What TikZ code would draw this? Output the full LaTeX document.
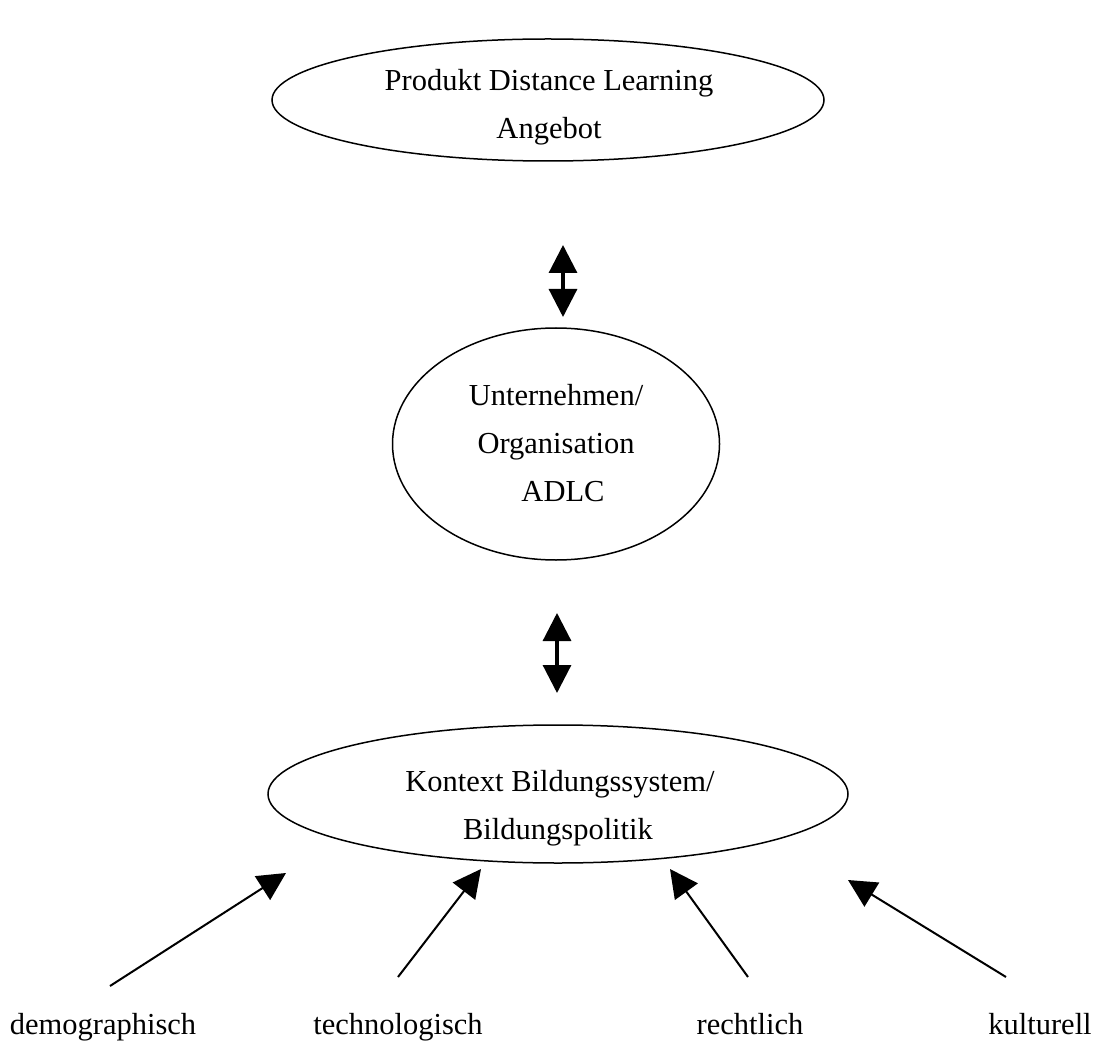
\documentclass[tikz,border=0pt]{standalone}
\usepackage{fontspec}
\setmainfont{Liberation Serif}
\usetikzlibrary{arrows.meta,shapes.geometric}
\begin{document}
\begin{tikzpicture}[x=1pt,y=-1pt,
  ell/.style={draw,ellipse,line width=1.5pt,inner sep=0pt},
  txt/.style={inner sep=0pt,anchor=base,font=\fontsize{30.5}{36}\selectfont},
  dbl/.style={line width=3.2pt,{Triangle[length=28pt,width=28pt]}-{Triangle[length=28pt,width=28pt]}},
  inarr/.style={line width=2pt,-{Triangle[length=28pt,width=28pt]}}]
\useasboundingbox (0,0) rectangle (1113,1048);
% ellipses
\node[ell,minimum width=552pt,minimum height=122pt] (top) at (548,100) {};
\node[ell,minimum width=327pt,minimum height=232pt] (mid) at (556,444) {};
\node[ell,minimum width=580pt,minimum height=138pt] (bot) at (558,794) {};
% texts inside ellipses
\node[txt] (top1) at (549,91) {Produkt Distance Learning};
\node[txt] (top2) at (549,139) {Angebot};
\node[txt] (mid1) at (556,405) {Unternehmen/};
\node[txt] (mid2) at (556,453) {Organisation};
\node[txt] (mid3) at (563,501) {ADLC};
\node[txt] (bot1) at (560,791) {Kontext Bildungssystem/};
\node[txt] (bot2) at (558,839) {Bildungspolitik};
% double arrows
\coordinate (d1a) at (563,245);
\coordinate (d1b) at (563,317);
\coordinate (d2a) at (557,613);
\coordinate (d2b) at (557,693);
\draw[dbl] (d1a) -- (d1b);
\draw[dbl] (d2a) -- (d2b);
% influence labels
\node[txt] (dem) at (103,1034) {demographisch};
\node[txt] (tec) at (398,1034) {technologisch};
\node[txt] (rec) at (750,1034) {rechtlich};
\node[txt] (kul) at (1040,1034) {kulturell};
\coordinate (s1) at (110,986);
\coordinate (s2) at (398,977);
\coordinate (s3) at (748,977);
\coordinate (s4) at (1006,977);
\coordinate (t1) at (286,873);
\coordinate (t2) at (481,869);
\coordinate (t3) at (670,869);
\coordinate (t4) at (848,880);
\draw[inarr] (s1) -- (t1);
\draw[inarr] (s2) -- (t2);
\draw[inarr] (s3) -- (t3);
\draw[inarr] (s4) -- (t4);
\end{tikzpicture}
\end{document}
